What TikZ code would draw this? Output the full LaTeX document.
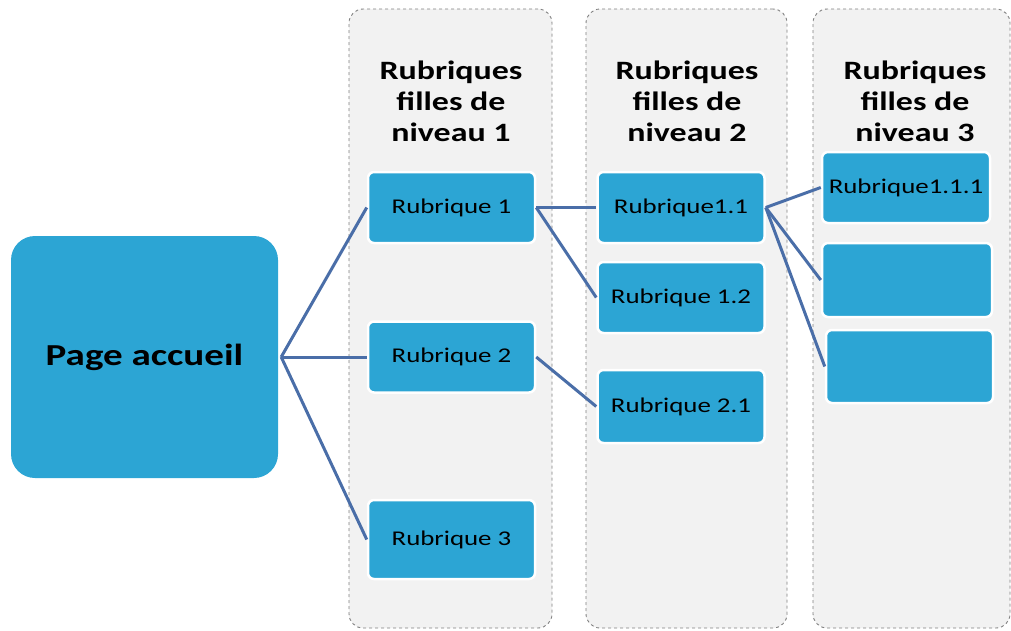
\documentclass[tikz,border=0pt]{standalone}
\usepackage{fontspec}
\newfontfamily\cf[FakeStretch=1.28]{Carlito}
\definecolor{boxblue}{RGB}{44,165,212}
\definecolor{linkblue}{RGB}{74,110,168}
\definecolor{colfill}{RGB}{242,242,242}
\definecolor{colborder}{RGB}{128,128,128}
\begin{document}
\begin{tikzpicture}[x=1pt,y=-1pt,
  colbox/.style={draw=colborder, dashed, line width=0.9pt, fill=colfill, rounded corners=14pt, minimum width=#1, minimum height=619pt, inner sep=0pt},
  header/.style={font=\cf\bfseries\fontsize{26.5}{31}\selectfont, align=center, text=black, inner sep=0pt},
  rub/.style={draw=white, line width=2.5pt, fill=boxblue, rounded corners=6pt, minimum width=167pt, minimum height=71pt, inner sep=0pt, font=\cf\fontsize{21}{24}\selectfont, text=black},
  home/.style={fill=boxblue, rounded corners=24pt, minimum width=267pt, minimum height=242pt, inner sep=0pt, font=\cf\bfseries\fontsize{30.5}{36}\selectfont, text=black},
  link/.style={draw=linkblue, line width=3pt}
]
\useasboundingbox (0,0) rectangle (1011,630);
% columns
\node[colbox=203pt] (c1) at (450.5,318.5) {};
\node[colbox=201pt] (c2) at (686.5,318.5) {};
\node[colbox=197pt] (c3) at (911.5,318.5) {};
% headers
\node[header] (h1) at (451,101) {Rubriques\\filles de\\niveau 1};
\node[header] (h2) at (687,101) {Rubriques\\filles de\\niveau 2};
\node[header] (h3) at (915,101) {Rubriques\\filles de\\niveau 3};
% home
\node[home] (home) at (144.5,357) {Page accueil};
% level 1
\node[rub] (r1) at (451.5,207.5) {Rubrique 1};
\node[rub] (r2) at (451.5,357) {Rubrique 2};
\node[rub, minimum height=79pt] (r3) at (451.5,539.5) {Rubrique 3};
% level 2
\node[rub] (r11) at (681,207.5) {Rubrique1.1};
\node[rub] (r12) at (681,297.5) {Rubrique 1.2};
\node[rub, minimum height=73pt] (r21) at (681,406.5) {Rubrique 2.1};
% level 3
\node[rub, minimum width=168pt] (r111) at (906,187.5) {Rubrique1.1.1};
\node[rub, minimum width=170pt, minimum height=74pt] (b2) at (907,280) {};
\node[rub, minimum width=167pt, minimum height=73pt] (b3) at (909.5,366.5) {};
% connectors
\coordinate (hc) at ([xshift=3pt]home.east);
\draw[link] (hc) -- (r1.west);
\draw[link] (hc) -- (r2.west);
\draw[link] (hc) -- (r3.west);
\draw[link] (r1.east) -- (r11.west);
\draw[link] (r1.east) -- (r12.west);
\draw[link] (r2.east) -- (r21.west);
\draw[link] (r11.east) -- (r111.west);
\draw[link] (r11.east) -- (b2.west);
\draw[link] (r11.east) -- (b3.west);
\end{tikzpicture}
\end{document}
